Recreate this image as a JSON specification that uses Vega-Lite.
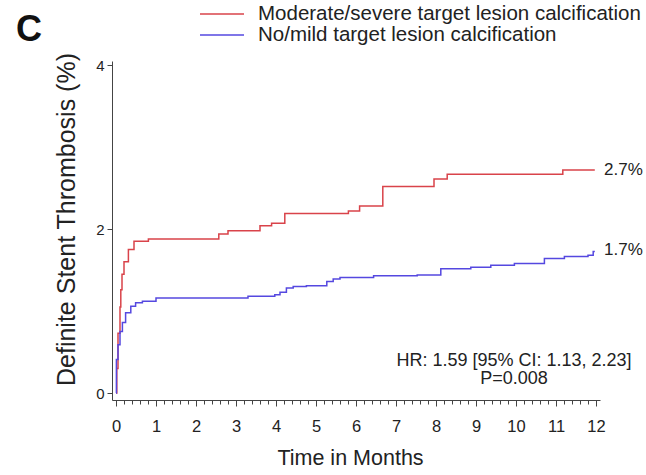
{
  "$schema": "https://vega.github.io/schema/vega-lite/v6.json",
  "width": 488,
  "height": 339,
  "autosize": "none",
  "padding": {"left": 112, "top": 61, "right": 46, "bottom": 75},
  "background": "white",
  "config": {
    "font": "Liberation Sans",
    "view": {"stroke": null},
    "axis": {"domainColor": "#444", "tickColor": "#444", "labelColor": "#222", "titleColor": "#222", "grid": false, "labelFont": "Liberation Sans", "titleFont": "Liberation Sans", "titleFontWeight": "normal"}
  },
  "title": {"text": "C", "anchor": "start", "frame": "group", "fontSize": 36, "fontWeight": "bold", "font": "Liberation Sans", "color": "#111", "dx": -96, "offset": 8, "baseline": "alphabetic", "dy": 80},
  "datasets": {
    "curves": [
      {"series": "Moderate/severe target lesion calcification", "month": 0, "pct": 0},
      {"series": "Moderate/severe target lesion calcification", "month": 0.02, "pct": 0.3},
      {"series": "Moderate/severe target lesion calcification", "month": 0.05, "pct": 0.73},
      {"series": "Moderate/severe target lesion calcification", "month": 0.1, "pct": 1.05},
      {"series": "Moderate/severe target lesion calcification", "month": 0.12, "pct": 1.26},
      {"series": "Moderate/severe target lesion calcification", "month": 0.15, "pct": 1.45},
      {"series": "Moderate/severe target lesion calcification", "month": 0.2, "pct": 1.6},
      {"series": "Moderate/severe target lesion calcification", "month": 0.31, "pct": 1.75},
      {"series": "Moderate/severe target lesion calcification", "month": 0.45, "pct": 1.85},
      {"series": "Moderate/severe target lesion calcification", "month": 0.81, "pct": 1.88},
      {"series": "Moderate/severe target lesion calcification", "month": 2.57, "pct": 1.94},
      {"series": "Moderate/severe target lesion calcification", "month": 2.8, "pct": 1.98},
      {"series": "Moderate/severe target lesion calcification", "month": 3.6, "pct": 2.04},
      {"series": "Moderate/severe target lesion calcification", "month": 3.89, "pct": 2.07},
      {"series": "Moderate/severe target lesion calcification", "month": 4.22, "pct": 2.19},
      {"series": "Moderate/severe target lesion calcification", "month": 5.81, "pct": 2.22},
      {"series": "Moderate/severe target lesion calcification", "month": 6.09, "pct": 2.28},
      {"series": "Moderate/severe target lesion calcification", "month": 6.67, "pct": 2.52},
      {"series": "Moderate/severe target lesion calcification", "month": 7.95, "pct": 2.61},
      {"series": "Moderate/severe target lesion calcification", "month": 8.28, "pct": 2.67},
      {"series": "Moderate/severe target lesion calcification", "month": 11.17, "pct": 2.72},
      {"series": "Moderate/severe target lesion calcification", "month": 11.97, "pct": 2.72},
      {"series": "No/mild target lesion calcification", "month": 0, "pct": 0},
      {"series": "No/mild target lesion calcification", "month": 0.01, "pct": 0.41},
      {"series": "No/mild target lesion calcification", "month": 0.05, "pct": 0.59},
      {"series": "No/mild target lesion calcification", "month": 0.1, "pct": 0.75},
      {"series": "No/mild target lesion calcification", "month": 0.16, "pct": 0.86},
      {"series": "No/mild target lesion calcification", "month": 0.24, "pct": 0.98},
      {"series": "No/mild target lesion calcification", "month": 0.37, "pct": 1.06},
      {"series": "No/mild target lesion calcification", "month": 0.49, "pct": 1.1},
      {"series": "No/mild target lesion calcification", "month": 0.66, "pct": 1.12},
      {"series": "No/mild target lesion calcification", "month": 1.0, "pct": 1.16},
      {"series": "No/mild target lesion calcification", "month": 3.3, "pct": 1.18},
      {"series": "No/mild target lesion calcification", "month": 3.97, "pct": 1.2},
      {"series": "No/mild target lesion calcification", "month": 4.1, "pct": 1.23},
      {"series": "No/mild target lesion calcification", "month": 4.26, "pct": 1.28},
      {"series": "No/mild target lesion calcification", "month": 4.43, "pct": 1.3},
      {"series": "No/mild target lesion calcification", "month": 4.76, "pct": 1.31},
      {"series": "No/mild target lesion calcification", "month": 5.27, "pct": 1.36},
      {"series": "No/mild target lesion calcification", "month": 5.43, "pct": 1.39},
      {"series": "No/mild target lesion calcification", "month": 5.6, "pct": 1.41},
      {"series": "No/mild target lesion calcification", "month": 6.44, "pct": 1.43},
      {"series": "No/mild target lesion calcification", "month": 7.53, "pct": 1.44},
      {"series": "No/mild target lesion calcification", "month": 8.12, "pct": 1.515},
      {"series": "No/mild target lesion calcification", "month": 8.87, "pct": 1.535},
      {"series": "No/mild target lesion calcification", "month": 9.37, "pct": 1.56},
      {"series": "No/mild target lesion calcification", "month": 9.96, "pct": 1.58},
      {"series": "No/mild target lesion calcification", "month": 10.71, "pct": 1.64},
      {"series": "No/mild target lesion calcification", "month": 11.21, "pct": 1.665},
      {"series": "No/mild target lesion calcification", "month": 11.8, "pct": 1.68},
      {"series": "No/mild target lesion calcification", "month": 11.93, "pct": 1.725},
      {"series": "No/mild target lesion calcification", "month": 11.97, "pct": 1.725}
    ],
    "endLabels": [
      {"month": 12.2, "pct": 2.72, "label": "2.7%"},
      {"month": 12.2, "pct": 1.74, "label": "1.7%"}
    ],
    "stats": [
      {"month": 9.95, "pct": 0.325, "label": "HR: 1.59 [95% CI: 1.13, 2.23]"},
      {"month": 9.95, "pct": 0.105, "label": "P=0.008"}
    ]
  },
  "layer": [
    {
      "data": {"name": "curves"},
      "mark": {"type": "line", "interpolate": "step-after", "strokeWidth": 1.5},
      "encoding": {
        "x": {
          "field": "month", "type": "quantitative",
          "scale": {"domain": [-0.1, 12.1], "nice": false, "zero": false},
          "axis": {
            "title": "Time in Months",
            "titleFontSize": 21.5, "titlePadding": 13, "titleX": 238,
            "labelFontSize": 16.5, "labelPadding": 12,
            "tickCount": 200,
            "values": [0,0.2,0.4,0.6,0.8,1,1.2,1.4,1.6,1.8,2,2.2,2.4,2.6,2.8,3,3.2,3.4,3.6,3.8,4,4.2,4.4,4.6,4.8,5,5.2,5.4,5.6,5.8,6,6.2,6.4,6.6,6.8,7,7.2,7.4,7.6,7.8,8,8.2,8.4,8.6,8.8,9,9.2,9.4,9.6,9.8,10,10.2,10.4,10.6,10.8,11,11.2,11.4,11.6,11.8,12],
            "labelExpr": "abs(datum.value - round(datum.value)) < 0.01 ? format(datum.value, 'd') : ''",
            "tickSize": {"condition": {"test": "abs(datum.value - round(datum.value)) < 0.01", "value": 6}, "value": 4},
            "labelOverlap": false, "labelFlush": false
          }
        },
        "y": {
          "field": "pct", "type": "quantitative",
          "scale": {"domain": [-0.085, 4.05], "nice": false, "zero": false},
          "axis": {
            "title": "Definite Stent Thrombosis (%)",
            "titleFontSize": 25, "titlePadding": 16, "titleY": 158,
            "labelFontSize": 15, "labelPadding": 3, "tickSize": 5,
            "values": [0, 2, 4], "format": "d"
          }
        },
        "color": {
          "field": "series", "type": "nominal",
          "scale": {"domain": ["Moderate/severe target lesion calcification", "No/mild target lesion calcification"], "range": ["#d9434a", "#5548e0"]},
          "legend": {
            "title": null, "orient": "none", "legendX": 87, "legendY": -56,
            "symbolType": "stroke", "symbolSize": 1936, "symbolStrokeWidth": 1.5,
            "labelFontSize": 20.5, "labelOffset": 13, "labelColor": "#222", "labelLimit": 500,
            "clipHeight": 18, "rowPadding": 0, "padding": 0
          }
        }
      }
    },
    {
      "data": {"name": "endLabels"},
      "mark": {"type": "text", "align": "left", "baseline": "middle", "fontSize": 17, "color": "#222"},
      "encoding": {
        "x": {"field": "month", "type": "quantitative"},
        "y": {"field": "pct", "type": "quantitative"},
        "text": {"field": "label"}
      }
    },
    {
      "data": {"name": "stats"},
      "mark": {"type": "text", "align": "center", "baseline": "alphabetic", "fontSize": 18, "color": "#222"},
      "encoding": {
        "x": {"field": "month", "type": "quantitative"},
        "y": {"field": "pct", "type": "quantitative"},
        "text": {"field": "label"}
      }
    }
  ]
}
